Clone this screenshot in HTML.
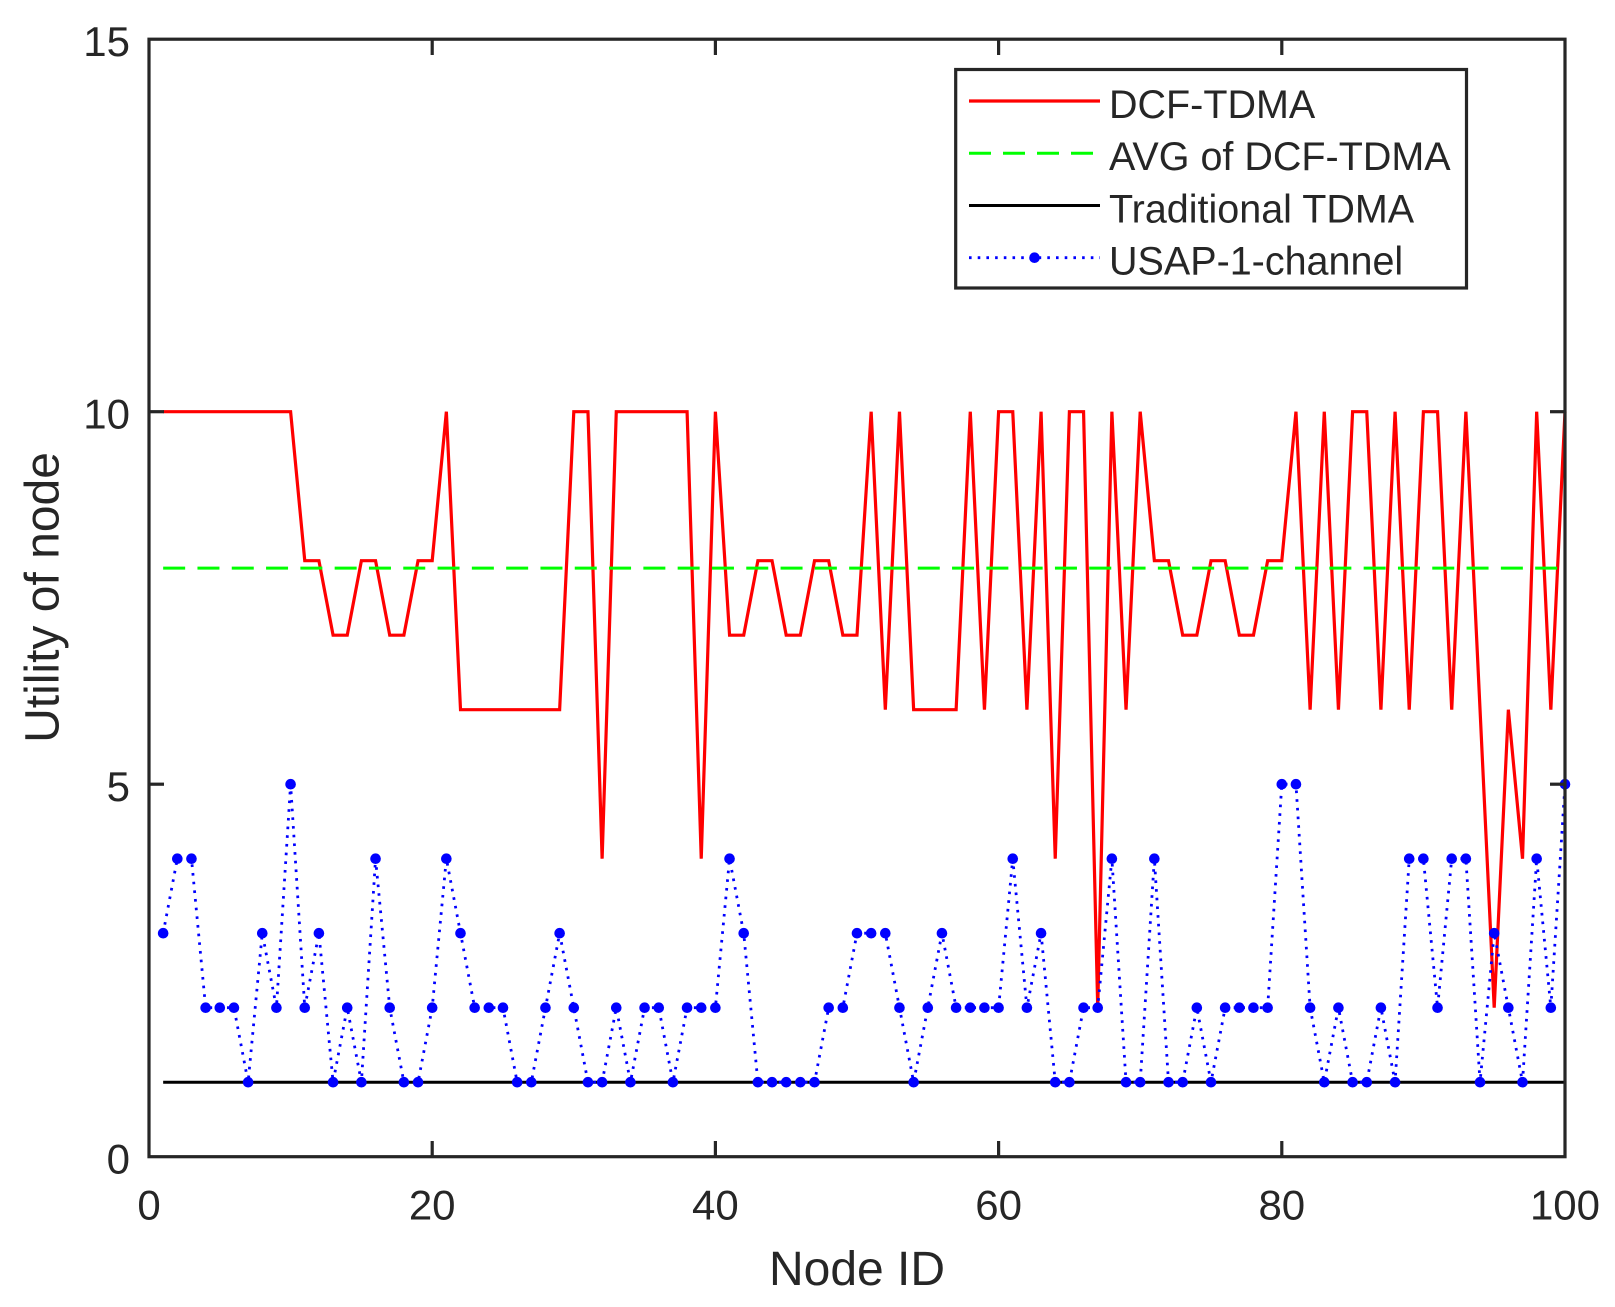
<!DOCTYPE html>
<html>
<head>
<meta charset="utf-8">
<style>
  html, body { margin: 0; padding: 0; background: #ffffff; }
  svg { display: block; }
  text { font-family: "Liberation Sans", Arial, sans-serif; fill: #262626; }
</style>
</head>
<body>
<svg width="1615" height="1307" viewBox="0 0 1615 1307" xmlns="http://www.w3.org/2000/svg">
  <defs>
    <marker id="dot" markerWidth="14" markerHeight="14" refX="7" refY="7" markerUnits="userSpaceOnUse">
      <circle cx="7" cy="7" r="5.3" fill="#0000ff"/>
    </marker>
  </defs>
  <rect x="0" y="0" width="1615" height="1307" fill="#ffffff"/>

  <!-- DCF-TDMA -->
  <polyline fill="none" stroke="#ff0000" stroke-width="3.2" stroke-linejoin="miter" stroke-miterlimit="10" points="
163.16,411.7 177.32,411.7 191.48,411.7 205.64,411.7 219.8,411.7 233.96,411.7 248.12,411.7 262.28,411.7 276.44,411.7 290.6,411.7
304.76,560.7 318.92,560.7 333.08,635.2 347.24,635.2 361.4,560.7 375.56,560.7 389.72,635.2 403.88,635.2 418.04,560.7 432.2,560.7
446.36,411.7 460.52,709.7 474.68,709.7 488.84,709.7 503,709.7 517.16,709.7 531.32,709.7 545.48,709.7 559.64,709.7
573.8,411.7 587.96,411.7 602.12,858.7 616.28,411.7 630.44,411.7 644.6,411.7 658.76,411.7 672.92,411.7 687.08,411.7 701.24,858.7 715.4,411.7
729.56,635.2 743.72,635.2 757.88,560.7 772.04,560.7 786.2,635.2 800.36,635.2 814.52,560.7 828.68,560.7 842.84,635.2 857,635.2
871.16,411.7 885.32,709.7 899.48,411.7 913.64,709.7 927.8,709.7 941.96,709.7 956.12,709.7 970.28,411.7 984.44,709.7 998.6,411.7
1012.76,411.7 1026.92,709.7 1041.08,411.7 1055.24,858.7 1069.4,411.7 1083.56,411.7 1097.72,1007.7 1111.88,411.7 1126.04,709.7 1140.2,411.7
1154.36,560.7 1168.52,560.7 1182.68,635.2 1196.84,635.2 1211,560.7 1225.16,560.7 1239.32,635.2 1253.48,635.2 1267.64,560.7 1281.8,560.7
1295.96,411.7 1310.12,709.7 1324.28,411.7 1338.44,709.7 1352.6,411.7 1366.76,411.7 1380.92,709.7 1395.08,411.7 1409.24,709.7 1423.4,411.7
1437.56,411.7 1451.72,709.7 1465.88,411.7 1480.04,709.7 1494.2,1007.7 1508.36,709.7 1522.52,858.7 1536.68,411.7 1550.84,709.7 1565,411.7"/>

  <!-- AVG of DCF-TDMA -->
  <line x1="163.16" y1="568.15" x2="1565" y2="568.15" stroke="#00ff00" stroke-width="3" stroke-dasharray="22 12.3"/>

  <!-- Traditional TDMA -->
  <line x1="163.16" y1="1082.2" x2="1565" y2="1082.2" stroke="#000000" stroke-width="3"/>

  <!-- USAP-1-channel -->
  <polyline fill="none" stroke="#0000ff" stroke-width="2.8" stroke-dasharray="2.6 6.1"
    marker-start="url(#dot)" marker-mid="url(#dot)" marker-end="url(#dot)" points="
163.16,933.2 177.32,858.7 191.48,858.7 205.64,1007.7 219.8,1007.7 233.96,1007.7 248.12,1082.2 262.28,933.2 276.44,1007.7 290.6,784.2
304.76,1007.7 318.92,933.2 333.08,1082.2 347.24,1007.7 361.4,1082.2 375.56,858.7 389.72,1007.7 403.88,1082.2 418.04,1082.2 432.2,1007.7
446.36,858.7 460.52,933.2 474.68,1007.7 488.84,1007.7 503,1007.7 517.16,1082.2 531.32,1082.2 545.48,1007.7 559.64,933.2 573.8,1007.7
587.96,1082.2 602.12,1082.2 616.28,1007.7 630.44,1082.2 644.6,1007.7 658.76,1007.7 672.92,1082.2 687.08,1007.7 701.24,1007.7 715.4,1007.7
729.56,858.7 743.72,933.2 757.88,1082.2 772.04,1082.2 786.2,1082.2 800.36,1082.2 814.52,1082.2 828.68,1007.7 842.84,1007.7 857,933.2
871.16,933.2 885.32,933.2 899.48,1007.7 913.64,1082.2 927.8,1007.7 941.96,933.2 956.12,1007.7 970.28,1007.7 984.44,1007.7 998.6,1007.7
1012.76,858.7 1026.92,1007.7 1041.08,933.2 1055.24,1082.2 1069.4,1082.2 1083.56,1007.7 1097.72,1007.7 1111.88,858.7 1126.04,1082.2 1140.2,1082.2
1154.36,858.7 1168.52,1082.2 1182.68,1082.2 1196.84,1007.7 1211,1082.2 1225.16,1007.7 1239.32,1007.7 1253.48,1007.7 1267.64,1007.7 1281.8,784.2
1295.96,784.2 1310.12,1007.7 1324.28,1082.2 1338.44,1007.7 1352.6,1082.2 1366.76,1082.2 1380.92,1007.7 1395.08,1082.2 1409.24,858.7 1423.4,858.7
1437.56,1007.7 1451.72,858.7 1465.88,858.7 1480.04,1082.2 1494.2,933.2 1508.36,1007.7 1522.52,1082.2 1536.68,858.7 1550.84,1007.7 1565,784.2"/>

  <!-- Axes box -->
  <rect x="149" y="39.2" width="1416" height="1117.5" fill="none" stroke="#262626" stroke-width="3.2"/>

  <!-- Ticks -->
  <g stroke="#262626" stroke-width="3.2">
    <line x1="432.2" y1="1156.7" x2="432.2" y2="1141"/>
    <line x1="715.4" y1="1156.7" x2="715.4" y2="1141"/>
    <line x1="998.6" y1="1156.7" x2="998.6" y2="1141"/>
    <line x1="1281.8" y1="1156.7" x2="1281.8" y2="1141"/>
    <line x1="432.2" y1="39.2" x2="432.2" y2="55"/>
    <line x1="715.4" y1="39.2" x2="715.4" y2="55"/>
    <line x1="998.6" y1="39.2" x2="998.6" y2="55"/>
    <line x1="1281.8" y1="39.2" x2="1281.8" y2="55"/>
    <line x1="149" y1="784.2" x2="164" y2="784.2"/>
    <line x1="149" y1="411.7" x2="164" y2="411.7"/>
    <line x1="1565" y1="784.2" x2="1550" y2="784.2"/>
    <line x1="1565" y1="411.7" x2="1550" y2="411.7"/>
  </g>

  <!-- Tick labels -->
  <g font-size="42">
    <text x="149" y="1219.5" text-anchor="middle">0</text>
    <text x="432.2" y="1219.5" text-anchor="middle">20</text>
    <text x="715.4" y="1219.5" text-anchor="middle">40</text>
    <text x="998.6" y="1219.5" text-anchor="middle">60</text>
    <text x="1281.8" y="1219.5" text-anchor="middle">80</text>
    <text x="1565" y="1219.5" text-anchor="middle">100</text>

    <text x="130" y="1173.5" text-anchor="end">0</text>
    <text x="130" y="801" text-anchor="end">5</text>
    <text x="130" y="428.5" text-anchor="end">10</text>
    <text x="130" y="56" text-anchor="end">15</text>
  </g>

  <!-- Axis labels -->
  <text x="857" y="1285" font-size="48" text-anchor="middle">Node ID</text>
  <text x="58.5" y="597.5" font-size="48" text-anchor="middle" transform="rotate(-90 58.5 597.5)">Utility of node</text>

  <!-- Legend -->
  <rect x="955.7" y="69.5" width="510.8" height="218.5" fill="#ffffff" stroke="#262626" stroke-width="3.2"/>
  <line x1="969" y1="101" x2="1100" y2="101" stroke="#ff0000" stroke-width="3.2"/>
  <line x1="969" y1="153.3" x2="1100" y2="153.3" stroke="#00ff00" stroke-width="3" stroke-dasharray="22 12"/>
  <line x1="969" y1="205.5" x2="1100" y2="205.5" stroke="#000000" stroke-width="3"/>
  <line x1="969" y1="257.7" x2="1100" y2="257.7" stroke="#0000ff" stroke-width="2.8" stroke-dasharray="2.6 6.1"/>
  <circle cx="1034.5" cy="257.7" r="5.3" fill="#0000ff"/>
  <g font-size="39.5">
    <text x="1109" y="117.8">DCF-TDMA</text>
    <text x="1109" y="170.1">AVG of DCF-TDMA</text>
    <text x="1109" y="222.3">Traditional TDMA</text>
    <text x="1109" y="274.5">USAP-1-channel</text>
  </g>
</svg>
</body>
</html>
